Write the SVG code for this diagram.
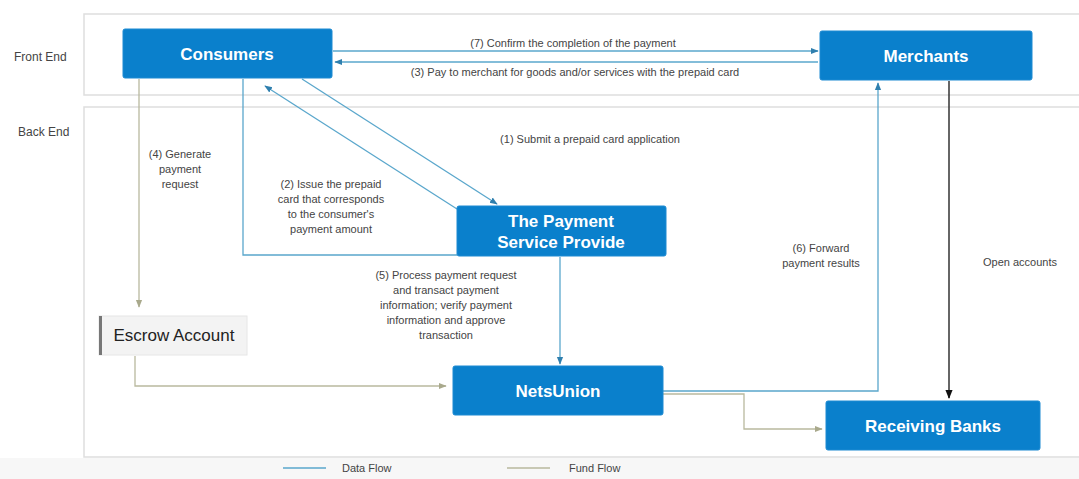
<svg xmlns="http://www.w3.org/2000/svg" width="1079" height="479" viewBox="0 0 1079 479">
<style>
.panel{fill:#fff;stroke:#dedede;stroke-width:1.5}
.box{fill:#0a80cc;stroke:#1c8ad2;stroke-width:1}
.bt{font-family:"Liberation Sans",Arial,sans-serif;font-size:17px;fill:#fff;text-anchor:middle;font-weight:bold}
.lbl{font-family:"Liberation Sans",Arial,sans-serif;font-size:11px;fill:#444;text-anchor:middle}
.side{font-family:"Liberation Sans",Arial,sans-serif;font-size:12px;fill:#444}
.data{fill:none;stroke:#5aa7cc;stroke-width:1.3}
.fund{fill:none;stroke:#b9b99e;stroke-width:1.3}
.blk{fill:none;stroke:#333;stroke-width:1.5}
</style>
<defs>
<marker id="ad" viewBox="0 0 10 10" refX="9" refY="5" markerWidth="6" markerHeight="6" orient="auto"><path d="M0,1 L10,5 L0,9 z" fill="#2f7fae"/></marker>
<marker id="af" viewBox="0 0 10 10" refX="9" refY="5" markerWidth="6" markerHeight="6" orient="auto"><path d="M0,1 L10,5 L0,9 z" fill="#a9a98c"/></marker>
<marker id="ab" viewBox="0 0 10 10" refX="9" refY="5" markerWidth="6" markerHeight="6" orient="auto"><path d="M0,1 L10,5 L0,9 z" fill="#111"/></marker>
</defs>
<rect x="0" y="0" width="1079" height="479" fill="#fff"/>
<rect x="0" y="458" width="1079" height="21" fill="#f7f7f7"/>
<rect class="panel" x="84" y="14" width="1000" height="81"/>
<rect class="panel" x="84" y="107" width="1000" height="350"/>
<text class="side" x="14" y="61">Front End</text>
<text class="side" x="18" y="136">Back End</text>

<g id="connectors">
<line class="data" x1="333" y1="51" x2="818" y2="51" marker-end="url(#ad)"/>
<text class="lbl" x="573" y="47">(7) Confirm the completion of the payment</text>
<line class="data" x1="818" y1="62" x2="335" y2="62" marker-end="url(#ad)"/>
<text class="lbl" x="575" y="76">(3) Pay to merchant for goods and/or services with the prepaid card</text>
<line class="data" x1="302" y1="79" x2="497" y2="204" marker-end="url(#ad)"/>
<text class="lbl" x="590" y="143">(1) Submit a prepaid card application</text>
<line class="data" x1="457" y1="209" x2="265" y2="86" marker-end="url(#ad)"/>
<polyline class="data" points="243,79 243,255 457,255"/>
<text class="lbl"><tspan x="331" y="188">(2) Issue the prepaid</tspan><tspan x="331" y="203">card that corresponds</tspan><tspan x="331" y="218">to the consumer's</tspan><tspan x="331" y="233">payment amount</tspan></text>
<line class="fund" x1="139" y1="79" x2="139" y2="307" marker-end="url(#af)"/>
<text class="lbl"><tspan x="180" y="158">(4) Generate</tspan><tspan x="180" y="173">payment</tspan><tspan x="180" y="188">request</tspan></text>
<polyline class="fund" points="135,356 135,386 446,386" marker-end="url(#af)"/>
<line class="data" x1="560" y1="257" x2="560" y2="364" marker-end="url(#ad)"/>
<text class="lbl"><tspan x="446" y="279">(5) Process payment request</tspan><tspan x="446" y="294">and transact payment</tspan><tspan x="446" y="309">information; verify payment</tspan><tspan x="446" y="324">information and approve</tspan><tspan x="446" y="339">transaction</tspan></text>
<polyline class="data" points="663,391 878,391 878,83" marker-end="url(#ad)"/>
<text class="lbl"><tspan x="821" y="252">(6) Forward</tspan><tspan x="821" y="267">payment results</tspan></text>
<polyline class="fund" points="663,394 744,394 744,429 822,429" marker-end="url(#af)"/>
<line class="blk" x1="949" y1="81" x2="949" y2="398" marker-end="url(#ab)"/>
<text class="lbl" x="1020" y="266">Open accounts</text>
</g>

<g id="consumers"><rect class="box" x="123" y="29" width="209" height="49" rx="2"/><text class="bt" x="227" y="60">Consumers</text></g>
<g id="merchants"><rect class="box" x="820" y="31" width="212" height="49" rx="2"/><text class="bt" x="926" y="62">Merchants</text></g>
<g id="psp"><rect class="box" x="457" y="206" width="209" height="50" rx="2"/><text class="bt"><tspan x="561" y="227">The Payment</tspan><tspan x="561" y="248">Service Provide</tspan></text></g>
<g id="escrow"><rect x="99" y="316" width="148" height="39" fill="#f3f3f3" stroke="#e6e6e6"/><rect x="99" y="316" width="3" height="39" fill="#777"/><text x="174" y="341" font-family="Liberation Sans, Arial, sans-serif" font-size="17" fill="#222" text-anchor="middle">Escrow Account</text></g>
<g id="netsunion"><rect class="box" x="453" y="366" width="210" height="49" rx="2"/><text class="bt" x="558" y="397">NetsUnion</text></g>
<g id="receiving"><rect class="box" x="826" y="401" width="214" height="49" rx="2"/><text class="bt" x="933" y="432">Receiving Banks</text></g>

<g id="legend">
<line x1="283" y1="468" x2="326" y2="468" stroke="#5aa7cc" stroke-width="1.5"/>
<text class="lbl" x="342" y="472" style="text-anchor:start">Data Flow</text>
<line x1="507" y1="468" x2="550" y2="468" stroke="#b9b99e" stroke-width="1.5"/>
<text class="lbl" x="569" y="472" style="text-anchor:start">Fund Flow</text>
</g>
</svg>
